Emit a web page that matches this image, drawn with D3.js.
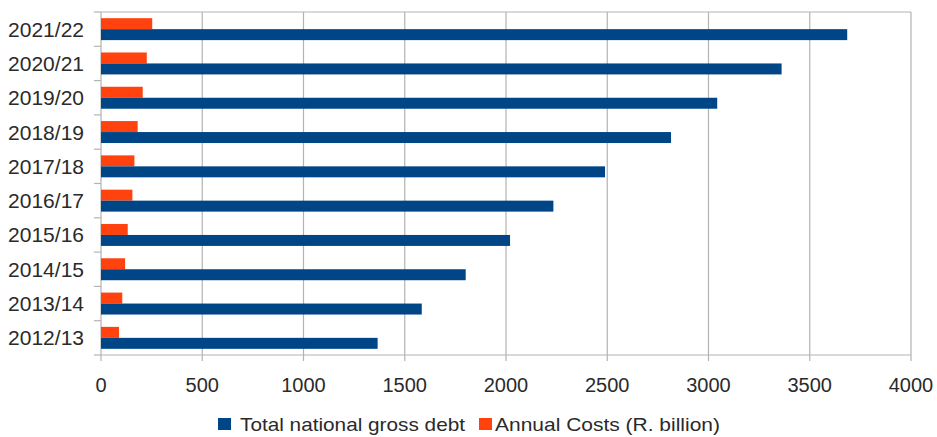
<!DOCTYPE html>
<html><head><meta charset="utf-8">
<script src="https://cdn.jsdelivr.net/npm/d3@7"></script>
<style>body{margin:0;background:#fff}svg{display:block}text{font-family:"Liberation Sans",Arial,sans-serif;fill:#2a2a2a}</style>
</head><body>
<svg id="c" width="937" height="437"></svg>
<script>
const categories = ["2012/13","2013/14","2014/15","2015/16","2016/17","2017/18","2018/19","2019/20","2020/21","2021/22"];
const debt = [1366,1584,1801,2020,2234,2489,2815,3043,3361,3685];
const costs = [89,105,119,132,155,165,181,206,226,253];
const xTicks = [0,500,1000,1500,2000,2500,3000,3500,4000];
const seriesNames = ["Total national gross debt","Annual Costs (R. billion)"];
const colors = ["#004586","#ff420e"];

const svg = d3.select("#c");
const L=101,R=911,T=12,B=355;
const x = d3.scaleLinear().domain([0,4000]).range([L,R]);
const y = d3.scaleBand().domain(categories.slice().reverse()).range([T,B]).paddingInner(0.36).paddingOuter(0.18);
const sub = d3.scaleBand().domain(["cost","debt"]).range([0,y.bandwidth()]);
const gridC="#b3b3b3";

// gridlines
svg.append("g").selectAll("line").data(xTicks).join("line")
  .attr("x1",d=>x(d)).attr("x2",d=>x(d)).attr("y1",T).attr("y2",B+6)
  .attr("stroke",gridC).attr("stroke-width",1.2);
// frame top / bottom
svg.append("line").attr("x1",L).attr("x2",R).attr("y1",T).attr("y2",T).attr("stroke",gridC).attr("stroke-width",1.2);
svg.append("line").attr("x1",L).attr("x2",R).attr("y1",B).attr("y2",B).attr("stroke",gridC).attr("stroke-width",1.2);
// y ticks at band boundaries
const step=y.step();
const bounds=d3.range(categories.length+1).map(i=>T+i*step);
svg.append("g").selectAll("line").data(bounds).join("line")
  .attr("x1",L-7).attr("x2",L).attr("y1",d=>d).attr("y2",d=>d).attr("stroke",gridC).attr("stroke-width",1.2);

// bars
const g = svg.append("g");
g.selectAll("rect.cost").data(categories).join("rect").attr("class","cost")
  .attr("x",x(0)).attr("y",(d)=>y(d)+sub("cost"))
  .attr("width",(d,i)=>x(costs[i])-x(0)).attr("height",sub.bandwidth()).attr("fill",colors[1]);
g.selectAll("rect.debt").data(categories).join("rect").attr("class","debt")
  .attr("x",x(0)).attr("y",(d)=>y(d)+sub("debt"))
  .attr("width",(d,i)=>x(debt[i])-x(0)).attr("height",sub.bandwidth()).attr("fill",colors[0]);

// y labels
svg.append("g").selectAll("text").data(categories).join("text")
  .attr("x",84).attr("y",d=>y(d)+y.bandwidth()/2+7.5).attr("text-anchor","end")
  .attr("font-size",21).text(d=>d);
// x labels
svg.append("g").selectAll("text").data(xTicks).join("text")
  .attr("x",d=>x(d)).attr("y",392).attr("text-anchor","middle")
  .attr("font-size",20).text(d=>d);

// legend
const leg=[{x:218,tx:240,w:225,i:0},{x:479,tx:495,w:225,i:1}];
leg.forEach(l=>{
  svg.append("rect").attr("x",l.x).attr("y",418).attr("width",13).attr("height",12).attr("fill",colors[l.i]);
  svg.append("text").attr("x",l.tx).attr("y",431).attr("font-size",19)
    .attr("textLength",l.w).attr("lengthAdjust","spacingAndGlyphs").text(seriesNames[l.i]);
});
</script>
</body></html>
